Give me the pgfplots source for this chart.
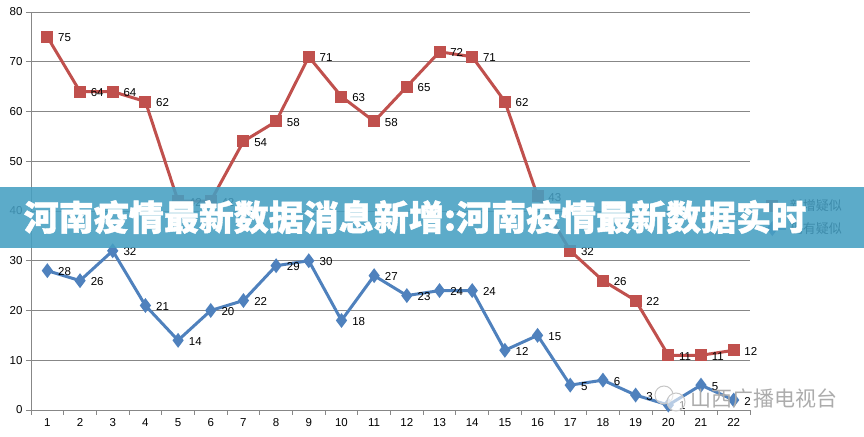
\documentclass[border=0pt]{standalone}
\usepackage{fontspec}
\setmainfont{Liberation Sans}
\usepackage{pgfplots}
\pgfplotsset{compat=1.18}
\newfontfamily\cjk{Noto Sans CJK SC}
\newfontfamily\cjkB{Noto Sans CJK SC}[BoldFeatures={FakeBold=1.2}]
\definecolor{redl}{RGB}{192,80,77}
\definecolor{bluel}{RGB}{79,129,189}
\definecolor{banner}{RGB}{70,159,194}
\definecolor{gridc}{RGB}{135,135,135}
\begin{document}
\begin{tikzpicture}[x=1bp,y=1bp]
\path[use as bounding box] (0,0) rectangle (864,437);
\begin{axis}[at={(31bp,27bp)}, anchor=south west, scale only axis,
  width=719bp, height=398bp,
  xmin=0.5, xmax=22.5, ymin=0, ymax=80,
  ytick={0,10,...,80}, xtick={1,...,22},
  minor xtick={0.5,1.5,...,22.5},
  major x tick style={draw=none},
  tick align=outside, major tick length=5bp, minor tick length=5bp,
  axis x line*=bottom, axis y line*=left,
  axis line style={draw=gridc, line width=0.8bp},
  tick style={draw=gridc, line width=0.8bp},
  ymajorgrids, grid style={draw=gridc, line width=0.8bp},
  tick label style={font=\fontsize{11.5bp}{13bp}\selectfont, text=black},
  /pgf/number format/assume math mode=true,
  clip=false,
  nodes near coords,
  every node near coord/.append style={anchor=west, xshift=6bp, yshift=-1bp, font=\fontsize{11.5bp}{13bp}\selectfont, text=black},
  legend style={at={(1.005,0.484)}, anchor=west, draw=none, fill=none,
    font=\cjk\fontsize{13bp}{15bp}\selectfont, row sep=6bp},
  legend cell align=left,
  legend image code/.code={\draw[mark repeat=2,mark phase=2] plot coordinates {(0bp,0bp)(14bp,0bp)(28bp,0bp)};},
]
\addplot[color=redl, line width=3bp, mark=square*, mark size=4.5bp, mark options={solid}] coordinates {
(1,75)(2,64)(3,64)(4,62)(5,42)(6,42)(7,54)(8,58)(9,71)(10,63)(11,58)(12,65)(13,72)(14,71)(15,62)(16,43)(17,32)(18,26)(19,22)(20,11)(21,11)(22,12)};
\addlegendentry{新增疑似}
\addplot[color=bluel, line width=3bp, mark=diamond*, mark size=5bp, mark options={solid}] coordinates {
(1,28)(2,26)(3,32)(4,21)(5,14)(6,20)(7,22)(8,29)(9,30)(10,18)(11,27)(12,23)(13,24)(14,24)(15,12)(16,15)(17,5)(18,6)(19,3)(20,1)(21,5)(22,2)};
\addlegendentry{现有疑似}
\end{axis}
\fill[banner, opacity=0.88] (0,189) rectangle (864,250);
\node[text=white, font=\cjkB\bfseries\fontsize{35bp}{40bp}\selectfont] at (415,220) {河南疫情最新数据消息新增:河南疫情最新数据实时};
\draw[gray!45, line width=1bp, fill=white, fill opacity=0.6] (664,42) circle (9);
\draw[gray!45, line width=1bp, fill=white, fill opacity=0.6] (676,35) circle (9);
\node[text=gray!65, font=\cjk\fontsize{21bp}{25bp}\selectfont, anchor=west, inner sep=0pt] at (690,38) {山西广播电视台};
\end{tikzpicture}
\end{document}
